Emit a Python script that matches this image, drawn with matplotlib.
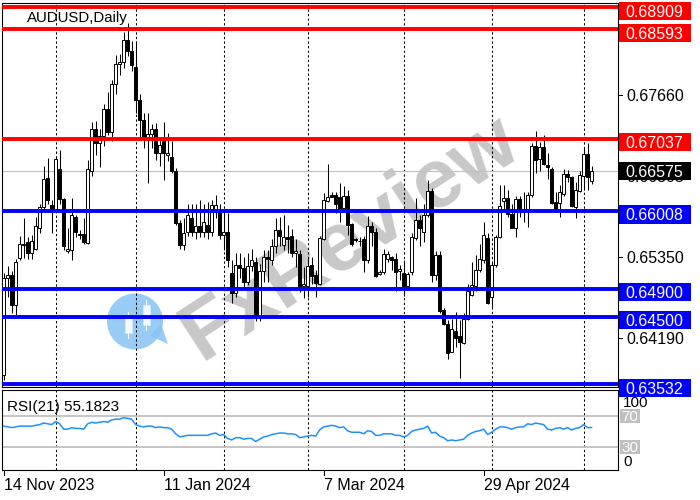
import matplotlib
matplotlib.use("Agg")
import matplotlib.pyplot as plt
from matplotlib.patches import Rectangle, Circle, Polygon

plt.rcParams['font.family'] = ['Liberation Sans', 'DejaVu Sans']

# ---------------- data ----------------
opens = [0.6367,0.6505,0.6509,0.6466,0.6534,0.6552,0.6557,0.6540,0.6547,0.6577,0.6606,0.6647,0.6609,
         0.6603,0.6661,0.6617,0.6544,0.6545,0.6592,0.6568,0.6568,0.6555,0.6657,0.6717,0.6697,0.6708,0.6746,0.6713,0.6781,0.6810,0.6813,0.6845,0.6828,
         0.6806,0.6759,0.6730,0.6706,0.6711,0.6718,0.6683,0.6702,0.6680,0.6678,0.6658,0.6583,0.6552,0.6571,0.6590,0.6570,0.6579,0.6570,0.6580,0.6570,0.6600,0.6601,
         0.6566,0.6570,0.6512,0.6483,0.6524,0.6519,0.6500,0.6522,0.6528,0.6449,0.6515,0.6535,0.6531,0.6550,0.6573,0.6552,0.6564,0.6565,0.6540,0.6539,0.6493,
         0.6493,0.6524,0.6509,0.6497,0.6560,0.6615,0.6623,0.6623,0.6621,0.6605,0.6622,0.6582,0.6560,0.6558,0.6560,0.6531,0.6579,0.6571,0.6511,0.6513,0.6532,0.6535,0.6532,0.6515,
         0.6512,0.6493,0.6514,0.6562,0.6588,0.6571,0.6595,0.6629,0.6509,0.6538,0.6460,0.6439,0.6400,0.6429,0.6422,0.6412,0.6447,0.6481,0.6494,0.6516,0.6531,0.6562,
         0.6478,0.6524,0.6563,0.6615,0.6619,0.6596,0.6577,0.6617,0.6604,0.6603,0.6623,0.6693,0.6674,0.6692,0.6666,0.6661,0.6614,0.6612,0.6625,0.6653,0.6649,0.6606,0.6629,
         0.6650,0.6682,0.6644]
highs = [0.6512,0.6522,0.6515,0.6532,0.6565,0.6590,0.6564,0.6566,0.6592,0.6611,0.6664,0.6676,0.6616,
         0.6678,0.6688,0.6619,0.6576,0.6619,0.6595,0.6573,0.6590,0.6673,0.6728,0.6729,0.6717,0.6753,0.6770,0.6788,0.6823,0.6824,0.6856,0.6869,0.6843,
         0.6843,0.6768,0.6740,0.6740,0.6725,0.6726,0.6705,0.6728,0.6712,0.6700,0.6662,0.6588,0.6590,0.6611,0.6610,0.6611,0.6616,0.6611,0.6614,0.6616,0.6623,0.6611,
         0.6600,0.6598,0.6530,0.6540,0.6540,0.6535,0.6540,0.6546,0.6535,0.6525,0.6545,0.6545,0.6560,0.6590,0.6592,0.6595,0.6580,0.6575,0.6560,0.6545,0.6520,
         0.6533,0.6535,0.6516,0.6565,0.6626,0.6668,0.6627,0.6627,0.6640,0.6636,0.6631,0.6583,0.6562,0.6564,0.6565,0.6593,0.6585,0.6576,0.6516,0.6547,0.6543,0.6536,0.6540,0.6524,
         0.6530,0.6513,0.6569,0.6619,0.6595,0.6611,0.6645,0.6633,0.6543,0.6543,0.6462,0.6445,0.6446,0.6456,0.6445,0.6455,0.6497,0.6528,0.6538,0.6554,0.6585,0.6569,
         0.6528,0.6566,0.6638,0.6638,0.6630,0.6611,0.6622,0.6622,0.6628,0.6628,0.6697,0.6715,0.6699,0.6709,0.6683,0.6663,0.6628,0.6638,0.6661,0.6659,0.6650,0.6642,0.6657,
         0.6690,0.6698,0.6664]
lows = [0.6360,0.6478,0.6455,0.6452,0.6530,0.6533,0.6532,0.6532,0.6545,0.6569,0.6603,0.6611,0.6569,
        0.6602,0.6611,0.6545,0.6540,0.6531,0.6564,0.6561,0.6554,0.6554,0.6650,0.6680,0.6663,0.6693,0.6709,0.6700,0.6768,0.6795,0.6805,0.6822,0.6800,
        0.6740,0.6705,0.6690,0.6640,0.6690,0.6673,0.6665,0.6645,0.6672,0.6654,0.6580,0.6547,0.6545,0.6565,0.6565,0.6560,0.6563,0.6563,0.6560,0.6565,0.6590,0.6560,
        0.6545,0.6520,0.6470,0.6478,0.6505,0.6490,0.6495,0.6515,0.6443,0.6443,0.6500,0.6500,0.6523,0.6540,0.6550,0.6545,0.6540,0.6535,0.6520,0.6485,0.6476,
        0.6478,0.6497,0.6478,0.6495,0.6559,0.6614,0.6620,0.6597,0.6585,0.6603,0.6566,0.6551,0.6557,0.6550,0.6514,0.6526,0.6550,0.6507,0.6509,0.6511,0.6528,0.6516,0.6486,0.6502,
        0.6480,0.6490,0.6509,0.6559,0.6550,0.6557,0.6592,0.6500,0.6502,0.6455,0.6438,0.6389,0.6399,0.6407,0.6362,0.6411,0.6445,0.6480,0.6486,0.6514,0.6526,0.6468,
        0.6464,0.6521,0.6562,0.6604,0.6592,0.6576,0.6564,0.6592,0.6585,0.6578,0.6620,0.6654,0.6657,0.6666,0.6646,0.6611,0.6602,0.6592,0.6622,0.6642,0.6606,0.6590,0.6627,
        0.6630,0.6630,0.6639]
closes = [0.6505,0.6509,0.6466,0.6528,0.6554,0.6554,0.6540,0.6558,0.6579,0.6606,0.6646,0.6616,0.6600,
          0.6674,0.6617,0.6550,0.6547,0.6595,0.6571,0.6566,0.6557,0.6660,0.6717,0.6697,0.6708,0.6746,0.6713,0.6781,0.6810,0.6813,0.6845,0.6828,0.6809,
          0.6759,0.6730,0.6706,0.6711,0.6718,0.6683,0.6695,0.6683,0.6683,0.6657,0.6583,0.6552,0.6569,0.6595,0.6571,0.6579,0.6571,0.6585,0.6570,0.6609,0.6609,0.6566,
          0.6570,0.6531,0.6483,0.6524,0.6519,0.6500,0.6522,0.6530,0.6449,0.6515,0.6535,0.6532,0.6550,0.6573,0.6565,0.6564,0.6560,0.6540,0.6544,0.6493,0.6497,
          0.6522,0.6508,0.6498,0.6562,0.6616,0.6620,0.6621,0.6611,0.6600,0.6622,0.6581,0.6554,0.6559,0.6558,0.6531,0.6579,0.6570,0.6508,0.6514,0.6539,0.6539,0.6531,0.6513,0.6518,
          0.6493,0.6511,0.6563,0.6588,0.6577,0.6595,0.6629,0.6509,0.6538,0.6458,0.6440,0.6398,0.6433,0.6420,0.6414,0.6446,0.6486,0.6495,0.6516,0.6532,0.6566,0.6470,
          0.6524,0.6563,0.6608,0.6619,0.6596,0.6577,0.6617,0.6604,0.6603,0.6623,0.6693,0.6673,0.6692,0.6668,0.6663,0.6612,0.6603,0.6628,0.6653,0.6649,0.6607,0.6630,0.6652,
          0.6682,0.6649,0.66575]
rsi_values = [57,56,55,56,57,57,57,57,58,59,61,60,59,
              63,60,53,53,55,54,54,53,60,62,61,62,63,62,65,66,66,68,67,66,
              59,57,56,57,57,55,56,55,55,53,47,43,44,45,45,45,45,45,45,47,48,45,
              46,41,39,42,42,40,41,41,37,40,43,44,46,47,48,48,47,47,46,42,43,
              44,45,44,52,56,57,58,57,55,56,51,49,49,49,47,51,50,45,45,47,47,47,45,45,
              43,45,50,52,53,54,57,48,49,44,42,38,39,38,39,40,45,48,50,51,53,46,
              49,53,56,56,55,53,55,56,56,60,59,61,60,59,53,52,54,55,53,55,52,54,55,
              59,55,55.18]

symbol_title = "AUDUSD,Daily"
rsi_title = "RSI(21) 55.1823"
red_levels = [0.68909, 0.68593, 0.67037]
blue_levels = [0.66008, 0.64900, 0.64500, 0.63532]
last_price = 0.66575
price_ticks = [0.67660, 0.66505, 0.65350, 0.64190]
date_tick_idx = [0, 40, 80, 120]
date_tick_labels = ["14 Nov 2023", "11 Jan 2024", "7 Mar 2024", "29 Apr 2024"]
separator_idx = [13, 33, 55, 76, 100, 122, 145]
rsi_levels = [70, 30]
rsi_scale_labels = ["100", "0"]

# ---------------- layout ----------------
W, H = 700, 500
fig = plt.figure(figsize=(7, 5), dpi=100, facecolor='white')


def rect(x0, y0, x1, y1):
    return [x0 / W, 1 - y1 / H, (x1 - x0) / W, (y1 - y0) / H]


wm = fig.add_axes([0, 0, 1, 1], zorder=0)
wm.set_xlim(0, W); wm.set_ylim(H, 0); wm.axis('off'); wm.patch.set_visible(False)

ax = fig.add_axes(rect(2, 2.7, 618, 387), zorder=1)
rax = fig.add_axes(rect(2, 390, 618, 470), zorder=1)
for a in (ax, rax):
    a.set_facecolor('none')
    a.set_xticks([]); a.set_yticks([])
    for s in a.spines.values():
        s.set_color('black'); s.set_linewidth(0.8)
    a.set_xlim(-0.425, 153.6)

ov = fig.add_axes([0, 0, 1, 1], zorder=3)
ov.set_xlim(0, W); ov.set_ylim(H, 0); ov.axis('off'); ov.patch.set_visible(False)

ax.set_ylim(0.63496, 0.68975)
rax.set_ylim(0, 103.9)

FS = 11.5
HC = 0.358 * FS * 100 / 72  # half cap height in px

# ---------------- watermark ----------------
wm.text(350, 238, 'FxReview', rotation=33, fontsize=60, fontweight='bold',
        color='#c8c8c8', ha='center', va='center', rotation_mode='anchor')
wm.add_patch(Circle((135, 321.5), 28, fc='#86c4f4', ec='none', alpha=0.85))
wm.add_patch(Polygon([(150, 336), (168, 344), (161, 324)], closed=True, fc='#86c4f4', ec='none', alpha=0.85))
for (cx, y0, y1, b0, b1) in [(128, 312, 338, 317, 333), (146, 300, 330, 305, 325)]:
    wm.plot([cx, cx], [y0, y1], color='#f4f9fe', lw=0.8)
    wm.add_patch(Rectangle((cx - 3.5, b0), 7, b1 - b0, fc='#f4f9fe', ec='#d8ecfc', lw=0.5))

# ---------------- candles ----------------
idx = list(range(len(closes)))
ax.vlines(idx, lows, highs, color='black', lw=0.75, zorder=3)
for i, o, c in zip(idx, opens, closes):
    lo, hi = min(o, c), max(o, c)
    fc = 'white' if c >= o else 'black'
    ax.add_patch(Rectangle((i - 0.3, lo), 0.6, max(hi - lo, 0.00003), fc=fc, ec='black',
                           lw=0.7, zorder=3.5))

# separators
for s in separator_idx:
    for a in (ax, rax):
        a.axvline(s, color='black', lw=0.75, ls=(0, (2.2, 2.2)), zorder=1)

ax.axhline(last_price, color='#c0c0c0', lw=0.8, zorder=2)
for lv in red_levels:
    ax.axhline(lv, color='#ff0000', lw=2.8, zorder=5)
for lv in blue_levels:
    ax.axhline(lv, color='#0000ff', lw=2.8, zorder=5)


def py(a, val):
    return H - a.transData.transform((0, val))[1]


# right price scale
for t in price_ticks:
    y = py(ax, t)
    ov.plot([618, 622], [y, y], color='black', lw=0.75)
    ov.text(626, y + HC, f"{t:.5f}", fontsize=FS, va='baseline', ha='left', color='black', zorder=2)


def price_box(level, fc, offset):
    yc = py(ax, level) + offset
    top = max(yc - 9.2, 1.7)
    ov.add_patch(Rectangle((619, top), 72, 18.4, fc=fc, ec='none', zorder=5))
    ov.text(625.5, top + 9.2 + HC, f"{level:.5f}", color='white', fontsize=FS, va='baseline',
            ha='left', zorder=6)


for lv in red_levels:
    price_box(lv, '#ff0000', 3.5)
for lv in blue_levels:
    price_box(lv, '#0000ff', 3.5)
price_box(last_price, '#000000', 0.0)

# titles
ov.text(27, 21.7, symbol_title, fontsize=10.8, va='baseline', ha='left', color='black')
ov.text(7.3, 410.5, rsi_title, fontsize=11, va='baseline', ha='left', color='black')

# ---------------- RSI ----------------
rax.plot(idx, rsi_values, color='#1e90ff', lw=1.1, zorder=3)
for lv in rsi_levels:
    rax.axhline(lv, color='#c0c0c0', lw=1.3, zorder=2)
    y = py(rax, lv)
    ov.add_patch(Rectangle((620, y - 7), 19.5, 14, fc='#c0c0c0', ec='none', zorder=5))
    ov.text(621.5, y + HC - 0.5, f"{lv}", color='white', fontsize=FS - 0.5, va='baseline', ha='left', zorder=6)

r_top = H - rax.transAxes.transform((0, 1))[1]
r_bot = H - rax.transAxes.transform((0, 0))[1]
ov.text(623, r_top + 11.5 + HC, rsi_scale_labels[0], fontsize=FS - 0.5, va='baseline', ha='left', color='black')
ov.text(623, r_bot - 9.5 + HC, rsi_scale_labels[1], fontsize=FS - 0.5, va='baseline', ha='left', color='black')

# ---------------- date axis ----------------
for i, lab in zip(date_tick_idx, date_tick_labels):
    x = ax.transData.transform((i, 0))[0]
    ov.plot([x, x], [r_bot, r_bot + 5], color='black', lw=0.75)
    ov.text(x, 484 + HC, lab, fontsize=FS, va='baseline', ha='left', color='black')

fig.savefig('out.png', dpi=100, facecolor='white')
